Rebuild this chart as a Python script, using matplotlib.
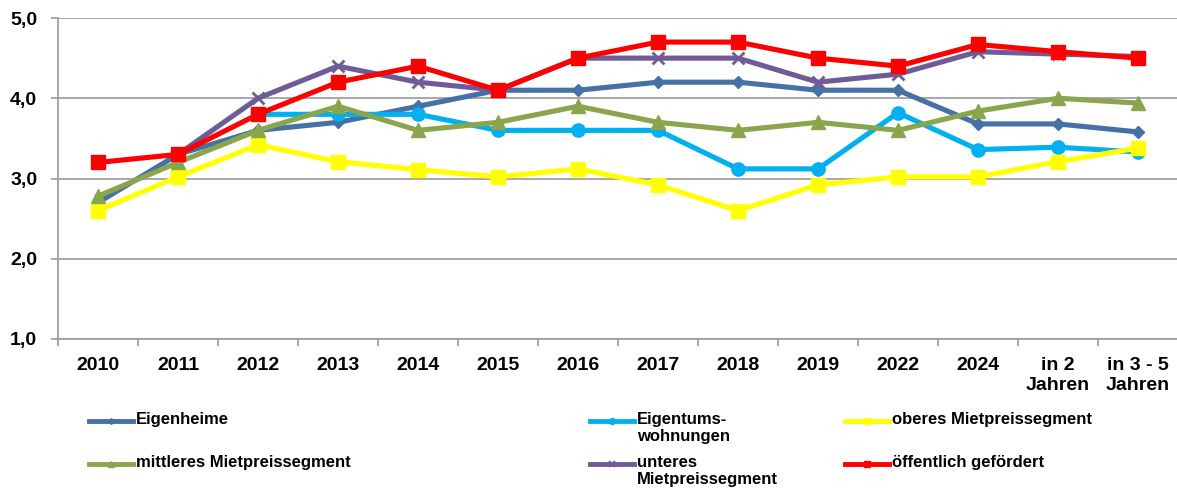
import matplotlib.pyplot as plt
from matplotlib.lines import Line2D
from matplotlib.ticker import FuncFormatter
import numpy as np

plt.rcParams['font.family'] = ['Liberation Sans', 'DejaVu Sans']
plt.rcParams['font.weight'] = 'bold'

categories = ['2010', '2011', '2012', '2013', '2014', '2015', '2016', '2017',
              '2018', '2019', '2022', '2024', 'in 2\nJahren', 'in 3 - 5\nJahren']
nan = np.nan
eigenheime = [2.7, 3.3, 3.6, 3.7, 3.9, 4.1, 4.1, 4.2, 4.2, 4.1, 4.1, 3.68, 3.68, 3.58]
eigentum = [nan, nan, 3.8, 3.8, 3.8, 3.6, 3.6, 3.6, 3.12, 3.12, 3.82, 3.36, 3.39, 3.33]
oberes = [2.6, 3.02, 3.42, 3.21, 3.11, 3.02, 3.12, 2.92, 2.6, 2.92, 3.02, 3.02, 3.21, 3.38]
mittleres = [2.78, 3.2, 3.6, 3.9, 3.6, 3.7, 3.9, 3.7, 3.6, 3.7, 3.6, 3.84, 4.0, 3.94]
unteres = [nan, 3.3, 4.0, 4.4, 4.2, 4.1, 4.5, 4.5, 4.5, 4.2, 4.3, 4.58, 4.55, 4.52]
oeffentlich = [3.2, 3.3, 3.8, 4.2, 4.4, 4.1, 4.5, 4.7, 4.7, 4.5, 4.4, 4.67, 4.58, 4.5]

series = [
    ('Eigenheime', eigenheime, '#4571A7', 'D', 6.5),
    ('Eigentums-\nwohnungen', eigentum, '#00B0F0', 'o', 9.5),
    ('oberes Mietpreissegment', oberes, '#FFFF00', 's', 10),
    ('mittleres Mietpreissegment', mittleres, '#8AA54C', '^', 10),
    ('unteres\nMietpreissegment', unteres, '#6F5B98', 'x', 9),
    ('öffentlich gefördert', oeffentlich, '#FF0000', 's', 10),
]

W, H = 1177, 493
fig = plt.figure(figsize=(W / 100, H / 100), dpi=100)
ax = fig.add_axes([58 / W, 1 - 339 / H, 1120 / W, 321 / H])

x = np.arange(len(categories))
for label, vals, col, mk, ms in series:
    mew = 2 if mk == 'x' else 1
    ax.plot(x, vals, color=col, lw=3.7, marker=mk, markersize=ms,
            markerfacecolor=col, markeredgecolor=col, markeredgewidth=mew)

ax.set_xlim(-0.5, len(categories) - 0.5)
ax.set_ylim(1, 5)
ax.set_yticks([1, 2, 3, 4, 5])
ax.yaxis.set_major_formatter(FuncFormatter(lambda v, p: f'{v:.1f}'.replace('.', ',')))
ax.set_xticks(x, categories)
ax.set_xticks(np.arange(-0.5, len(categories), 1), minor=True)
ax.tick_params(axis='x', which='major', length=0, pad=13, labelsize=14)
ax.tick_params(axis='x', which='minor', length=5, color='#9A9A9A', width=1.2)
ax.tick_params(axis='y', length=5, color='#9A9A9A', width=1.2, pad=10, labelsize=14)

ax.grid(axis='y', color='#A0A0A0', lw=1.3)
ax.set_axisbelow(True)
for s in ['top', 'right']:
    ax.spines[s].set_visible(False)
for s in ['left', 'bottom']:
    ax.spines[s].set_color('#9A9A9A')
    ax.spines[s].set_linewidth(1.2)

# legend drawn by hand: 3 columns, 2 rows, handle aligned with first text line
col_x = [89, 590, 845]
row_y = [421, 464]
for i, (label, vals, col, mk, ms) in enumerate(series):
    cx = col_x[i % 3]
    ry = row_y[i // 3]
    y = 1 - ry / H
    fig.add_artist(Line2D([cx / W, (cx + 44) / W], [y, y], transform=fig.transFigure,
                          color=col, lw=3.5))
    fig.add_artist(Line2D([(cx + 22) / W], [y], transform=fig.transFigure,
                          color=col, marker=mk, markersize=ms * 0.45,
                          markeredgewidth=1.2 if mk == 'x' else 1))
    fig.text((cx + 47) / W, 1 - (ry - 9) / H, label, fontsize=12, fontweight='bold',
             va='top', ha='left', linespacing=1.15)

fig.savefig('out.png', dpi=100)
